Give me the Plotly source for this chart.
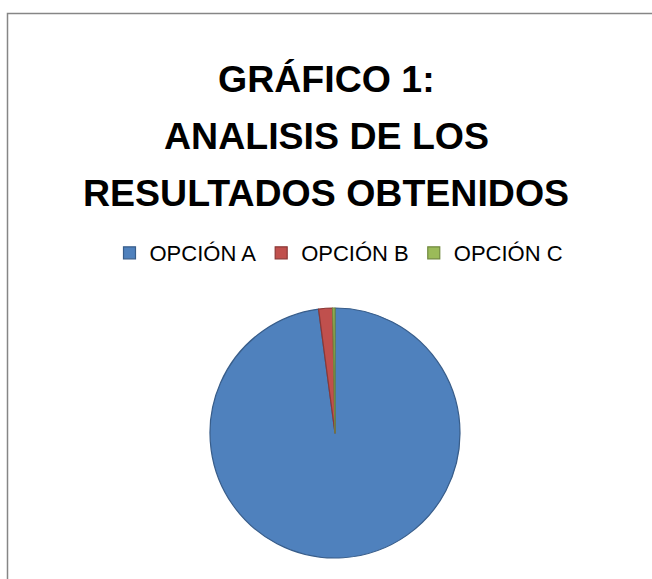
import plotly.graph_objects as go

categories = ["OPCIÓN A", "OPCIÓN B", "OPCIÓN C"]
values = [97.9, 1.8, 0.3]
colors = ["#4F81BD", "#C0504D", "#9BBB59"]
line_colors = ["#385D8A", "#8C3836", "#71893F"]
title_lines = ["GRÁFICO 1:", "ANALISIS DE LOS", "RESULTADOS OBTENIDOS"]

W, H = 652, 579

fig = go.Figure(go.Pie(
    labels=categories,
    values=values,
    sort=False,
    direction="clockwise",
    rotation=0,
    textinfo="none",
    marker=dict(colors=colors, line=dict(color=line_colors, width=1.2)),
    domain=dict(x=[210 / W, 460 / W], y=[(H - 558) / H, (H - 308) / H]),
))

title_font = dict(family="Liberation Sans, Arial, sans-serif", size=37.5, color="#000000")
baselines = [93, 150, 207]
annotations = []
for text, base in zip(title_lines, baselines):
    annotations.append(dict(
        text="<b>" + text + "</b>", x=326 / W, y=(H - base - 9) / H,
        xref="paper", yref="paper", xanchor="center", yanchor="bottom",
        showarrow=False, font=title_font,
    ))

fig.update_layout(
    width=W, height=H,
    margin=dict(l=0, r=0, t=0, b=0),
    paper_bgcolor="white",
    plot_bgcolor="white",
    showlegend=True,
    legend=dict(
        orientation="h", x=339 / W, xanchor="center",
        y=(H - 253) / H, yanchor="middle",
        font=dict(family="Liberation Sans, Arial, sans-serif", size=22, color="#000000"),
        itemwidth=30, tracegroupgap=0,
    ),
    annotations=annotations,
    shapes=[dict(
        type="rect", xref="paper", yref="paper",
        x0=7.5 / W, x1=1.2, y0=-0.2, y1=(H - 13.5) / H,
        line=dict(color="#868686", width=1.5), fillcolor="rgba(0,0,0,0)", layer="below",
    )],
)

fig.write_html(
    "out.html",
    config={"displayModeBar": False},
    post_script="document.body.style.margin='0';document.body.style.overflow='hidden';",
)
